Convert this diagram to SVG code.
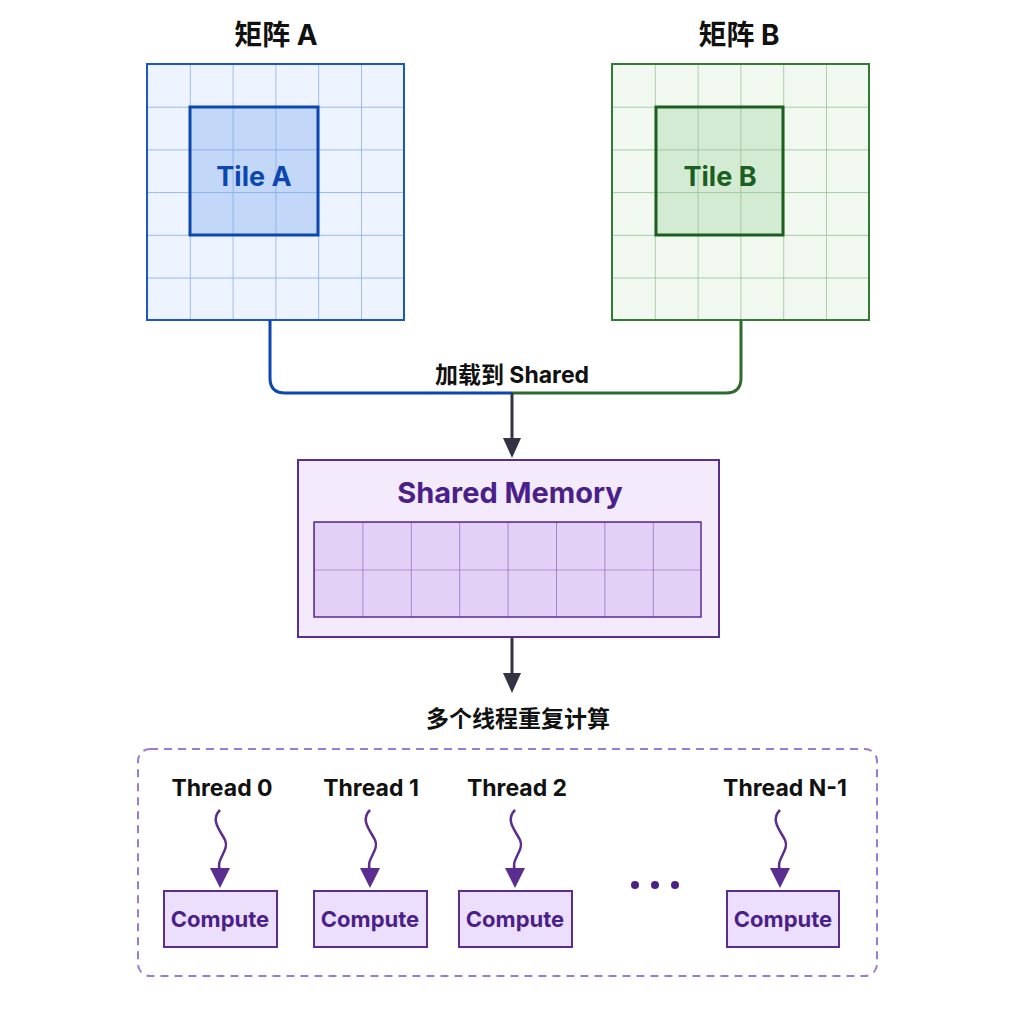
<svg xmlns="http://www.w3.org/2000/svg" width="1024" height="1024" viewBox="0 0 1024 1024">
<style>
text{font-family:"Inter","Noto Sans CJK SC",sans-serif;font-weight:700;text-anchor:middle}
.t{font-size:28px;fill:#111}
.lbl{font-size:23px;fill:#111}
.comp rect{fill:#ecdffb;stroke:#5b2d91;stroke-width:2}
.comp text{font-size:22px;fill:#4b1f8a}
.wav{fill:none;stroke:#5b2d91;stroke-width:2.5}
</style>
<defs>
<marker id="ad" markerWidth="20" markerHeight="18" refX="10" refY="9" orient="auto" markerUnits="userSpaceOnUse" viewBox="0 0 20 18"><path d="M0,0L20,9L0,18z" fill="#333344"/></marker>
<marker id="ap" markerWidth="20" markerHeight="20" refX="10" refY="10" orient="auto" markerUnits="userSpaceOnUse" viewBox="0 0 20 20"><path d="M0,0L20,10L0,20z" fill="#5b2d91"/></marker>
<pattern id="gA" x="147" y="64" width="42.8" height="42.7" patternUnits="userSpaceOnUse"><path d="M0,0H42.8M0,0V42.7" stroke="#7ea4e8" stroke-width="1.4" fill="none"/></pattern>
<pattern id="gB" x="612" y="64" width="42.8" height="42.7" patternUnits="userSpaceOnUse"><path d="M0,0H42.8M0,0V42.7" stroke="#8dbd8f" stroke-width="1.4" fill="none"/></pattern>
<pattern id="gS" x="314" y="522" width="48.4" height="47.5" patternUnits="userSpaceOnUse"><path d="M0,0H48.4M0,0V47.5" stroke="#7b55b0" stroke-width="1.2" fill="none"/></pattern>
</defs>
<rect width="1024" height="1024" fill="#fff"/>
<g id="matrixA">
<text class="t" x="276" y="45">矩阵 A</text>
<rect x="147" y="64" width="257" height="256" fill="#eef4ff"/>
<rect x="190" y="107" width="128" height="128" fill="#c3d8f8"/>
<rect x="147" y="64" width="257" height="256" fill="url(#gA)"/>
<rect x="147" y="64" width="257" height="256" fill="none" stroke="#1a56c4" stroke-width="2"/>
<rect x="190" y="107" width="128" height="128" fill="none" stroke="#0c47b0" stroke-width="3"/>
<text x="254" y="186" font-size="27" fill="#0c47b0">Tile A</text>
</g>
<g id="matrixB">
<text class="t" x="739" y="45">矩阵 B</text>
<rect x="612" y="64" width="257" height="256" fill="#f1f8f0"/>
<rect x="656" y="107" width="127" height="128" fill="#d3ebd2"/>
<rect x="612" y="64" width="257" height="256" fill="url(#gB)"/>
<rect x="612" y="64" width="257" height="256" fill="none" stroke="#2e7d32" stroke-width="2"/>
<rect x="656" y="107" width="127" height="128" fill="none" stroke="#1b5e20" stroke-width="3"/>
<text x="720" y="186" font-size="27" fill="#1b5e20">Tile B</text>
</g>
<g id="connectors">
<path d="M270,320V378Q270,393 285,393H512" fill="none" stroke="#0c47b0" stroke-width="3"/>
<path d="M741,320V378Q741,393 726,393H512" fill="none" stroke="#2e6b2e" stroke-width="3"/>
<path d="M512,393V448" stroke="#333344" stroke-width="3" marker-end="url(#ad)"/>
<path d="M512,637V683" stroke="#333344" stroke-width="3" marker-end="url(#ad)"/>
<text class="lbl" x="512" y="383">加载到 Shared</text>
<text class="lbl" x="518" y="727">多个线程重复计算</text>
<path class="wav" d="M220,810c-10,10 0,20 5,30s-10,20 -5,30v8" marker-end="url(#ap)"/>
<path class="wav" d="M370,810c-10,10 0,20 5,30s-10,20 -5,30v8" marker-end="url(#ap)"/>
<path class="wav" d="M515,810c-10,10 0,20 5,30s-10,20 -5,30v8" marker-end="url(#ap)"/>
<path class="wav" d="M780,810c-10,10 0,20 5,30s-10,20 -5,30v8" marker-end="url(#ap)"/>
</g>
<g id="shared">
<rect x="298" y="460" width="421" height="177" fill="#f3eafc" stroke="#5b2d91" stroke-width="2"/>
<text x="510" y="503" font-size="29" fill="#4b1f8a">Shared Memory</text>
<rect x="314" y="522" width="387" height="95" fill="#e3d0f7"/>
<rect x="314" y="522" width="387" height="95" fill="url(#gS)"/>
<rect x="314" y="522" width="387" height="95" fill="none" stroke="#5b2d91" stroke-width="1.5"/>
</g>
<g id="threads">
<rect x="138" y="749" width="739" height="227" rx="12" fill="none" stroke="#9b7bd4" stroke-width="2" stroke-dasharray="8,6"/>
<text class="lbl" x="222" y="796">Thread 0</text>
<text class="lbl" x="371" y="796">Thread 1</text>
<text class="lbl" x="517" y="796">Thread 2</text>
<text class="lbl" x="785" y="796">Thread N-1</text>
<g class="comp"><rect x="164" y="891" width="113" height="56"/><text x="220" y="927">Compute</text></g>
<g class="comp"><rect x="314" y="891" width="113" height="56"/><text x="370" y="927">Compute</text></g>
<g class="comp"><rect x="459" y="891" width="113" height="56"/><text x="515" y="927">Compute</text></g>
<g class="comp"><rect x="727" y="891" width="112" height="56"/><text x="783" y="927">Compute</text></g>
<circle cx="635" cy="885" r="4" fill="#4b1f8a"/><circle cx="655" cy="885" r="4" fill="#4b1f8a"/><circle cx="675" cy="885" r="4" fill="#4b1f8a"/>
</g>
</svg>
